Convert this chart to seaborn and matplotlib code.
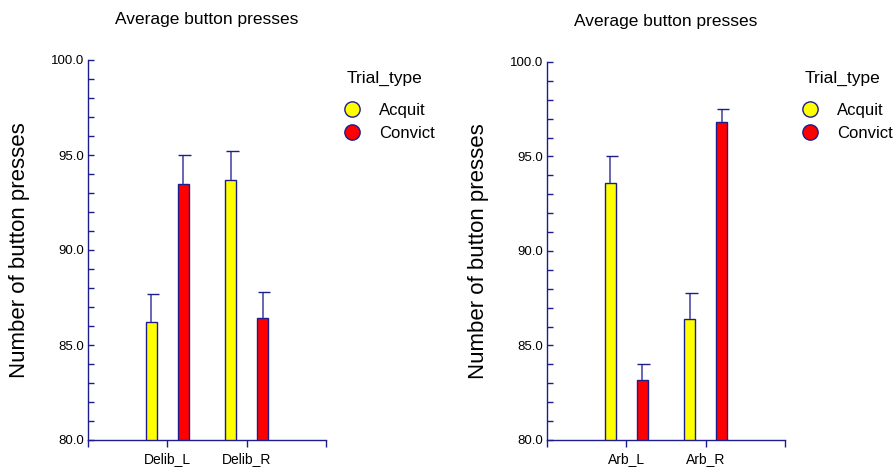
import numpy as np
import pandas as pd
import seaborn as sns
import matplotlib.pyplot as plt
from matplotlib.lines import Line2D
from matplotlib.ticker import MultipleLocator, FormatStrFormatter

# values
trial_types = ["Acquit", "Convict"]
delib_conditions = ["Delib_L", "Delib_R"]
delib_acquit = [86.2, 93.7]
delib_convict = [93.5, 86.4]
delib_acquit_err = [87.7, 95.2]
delib_convict_err = [95.0, 87.8]

arb_conditions = ["Arb_L", "Arb_R"]
arb_acquit = [93.6, 86.4]
arb_convict = [83.2, 96.8]
arb_acquit_err = [95.0, 87.8]
arb_convict_err = [84.0, 97.5]

palette = {"Acquit": "#ffff00", "Convict": "#ff0000"}
navy = "#1c1c8c"

sns.set_style("white")
plt.rcParams["font.family"] = ["Liberation Sans", "DejaVu Sans"]
plt.rcParams["text.color"] = "black"
plt.rcParams["axes.labelcolor"] = "black"

W, H = 896, 472
fig = plt.figure(figsize=(W / 100, H / 100), dpi=100)
ax1 = fig.add_axes([88 / W, 32 / H, 238 / W, 380 / H])
ax2 = fig.add_axes([547 / W, 32 / H, 238 / W, 378 / H])


def draw_panel(ax, conds, acq, conv, acq_err, conv_err, leg_x):
    df = pd.DataFrame({
        "cond": conds * 2,
        "Trial_type": ["Acquit"] * len(conds) + ["Convict"] * len(conds),
        "value": acq + conv,
    })
    sns.barplot(data=df, x="cond", y="value", hue="Trial_type", palette=palette,
                order=conds, hue_order=trial_types, errorbar=None, width=0.8,
                gap=0.65, saturation=1, edgecolor=navy, linewidth=1.0,
                legend=False, ax=ax)
    # upper error bars only (line from bar top + cap)
    pos = np.arange(len(conds))
    for off, means, tops in [(-0.2, acq, acq_err), (0.2, conv, conv_err)]:
        x = pos + off
        ax.vlines(x, means, tops, color="#5a5ab0", linewidth=1.3, zorder=3)
        ax.hlines(tops, x - 0.06, x + 0.1, color=navy, linewidth=1.0, zorder=3)
    ax.set_ylim(80, 100)
    ax.set_xlim(-1, 2)
    ax.set_xticks([-1, 0, 1, 2])
    ax.set_xticklabels([""] + conds + [""])
    ax.yaxis.set_major_locator(MultipleLocator(5))
    ax.yaxis.set_minor_locator(MultipleLocator(1))
    ax.yaxis.set_major_formatter(FormatStrFormatter("%.1f"))
    ax.tick_params(axis="y", which="both", direction="in", length=4, width=1,
                   color=navy, labelcolor="black", labelsize=9.5, pad=3, left=True)
    ax.tick_params(axis="x", direction="out", length=5, width=1, color=navy,
                   labelcolor="black", labelsize=10, bottom=True)
    for side in ["top", "right"]:
        ax.spines[side].set_visible(False)
    for side in ["left", "bottom"]:
        ax.spines[side].set_color(navy)
        ax.spines[side].set_linewidth(1.0)
    ax.set_xlabel("")
    ax.set_ylabel("Number of button presses", fontsize=16, labelpad=15)
    ax.set_title("Average button presses", fontsize=12.5, pad=26)

    # legend: title as text, entries as marker legend
    fig.text((leg_x - 5) / W, 1 - 78 / H, "Trial_type", fontsize=12.5,
             ha="left", va="center")
    handles = [Line2D([], [], marker="o", linestyle="none", markersize=11,
                      markerfacecolor=palette[t], markeredgecolor=navy, label=t)
               for t in trial_types]
    fig.legend(handles=handles, loc="upper left",
               bbox_to_anchor=((leg_x - 8) / W, 1 - 103 / H),
               frameon=False, fontsize=12, handlelength=1.0,
               handletextpad=1.1, labelspacing=0.45, borderpad=0,
               borderaxespad=0)


draw_panel(ax1, delib_conditions, delib_acquit, delib_convict,
           delib_acquit_err, delib_convict_err, 352)
draw_panel(ax2, arb_conditions, arb_acquit, arb_convict,
           arb_acquit_err, arb_convict_err, 810)

fig.savefig("out.png", dpi=100)
